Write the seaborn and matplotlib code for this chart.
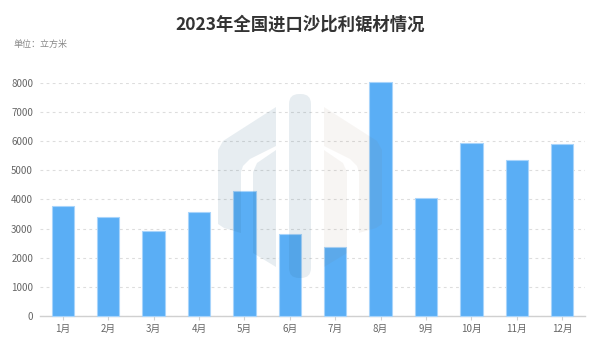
import numpy as np
import pandas as pd
import matplotlib
matplotlib.use("Agg")
import matplotlib.pyplot as plt
from matplotlib.patches import Polygon, FancyBboxPatch
import seaborn as sns

# data (cubic metres)
months = ["1月", "2月", "3月", "4月", "5月", "6月",
          "7月", "8月", "9月", "10月", "11月", "12月"]
volumes = [3770, 3390, 2910, 3580, 4270, 2815,
           2380, 8030, 4035, 5930, 5340, 5900]
y_ticks = [0, 1000, 2000, 3000, 4000, 5000, 6000, 7000, 8000]

title = "2023年全国进口沙比利锯材情况"
unit_text = "单位：立方米"

sns.set_theme(style="white")
plt.rcParams["font.family"] = ["Noto Sans CJK SC", "DejaVu Sans"]

df = pd.DataFrame({"month": months, "volume": volumes})

fig = plt.figure(figsize=(6, 3.52), dpi=100)
ax = fig.add_axes([40 / 600, 1 - 316 / 352, 545 / 600, (316 - 82.7) / 352])

sns.barplot(data=df, x="month", y="volume", color="#5aaef5", width=0.49,
            saturation=1, edgecolor="#a8d4fb", linewidth=0.8, ax=ax, zorder=3)
for p in ax.patches:
    p.set_clip_on(False)

ax.set_xlim(-0.5, len(months) - 0.5)
ax.set_ylim(0, 8000)
ax.set_yticks(y_ticks)
ax.set_xlabel("")
ax.set_ylabel("")
ax.yaxis.grid(True, linestyle=(0, (2.5, 3)), color="#dddddd", linewidth=0.8, zorder=0)
ax.xaxis.grid(False)
for side in ["top", "right", "left"]:
    ax.spines[side].set_visible(False)
ax.spines["bottom"].set_color("#d0d0d0")
ax.spines["bottom"].set_linewidth(1)
ax.tick_params(axis="y", length=0, pad=5, labelsize=7, labelcolor="#666666")
ax.tick_params(axis="x", length=3, width=0.8, color="#d0d0d0", pad=3,
               labelsize=7, labelcolor="#666666", bottom=True)

fig.text(0.5, 1 - 25 / 352, title, ha="center", va="center",
         fontsize=12.5, fontweight="bold", color="#333333")
fig.text(14 / 600, 1 - 44 / 352, unit_text, ha="left", va="center",
         fontsize=6.5, color="#888888")

# faint watermark drawn over the plot, in pixel coordinates
wm = fig.add_axes([0, 0, 1, 1], zorder=5)
wm.set_xlim(0, 600)
wm.set_ylim(352, 0)
wm.axis("off")
wm.patch.set_alpha(0)
cool = dict(facecolor="#2a6080", alpha=0.11, edgecolor="none")
warm = dict(facecolor="#806040", alpha=0.06, edgecolor="none")
wm.add_patch(FancyBboxPatch((289, 94), 22, 184, boxstyle="round,pad=0,rounding_size=10", **cool))
left_outer = [(218, 224), (218, 150), (223, 141), (276, 107), (276, 146),
              (250, 159), (243, 166), (241, 172), (241, 233), (224, 228)]
left_inner = [(253, 253), (253, 172), (257, 163), (276, 150), (276, 267)]
wm.add_patch(Polygon(left_outer, closed=True, **cool))
wm.add_patch(Polygon(left_inner, closed=True, **cool))
wm.add_patch(Polygon([(600 - x, y) for x, y in left_outer], closed=True, **warm))
wm.add_patch(Polygon([(600 - x, y) for x, y in left_inner], closed=True, **warm))

fig.savefig("out.png", dpi=100)
